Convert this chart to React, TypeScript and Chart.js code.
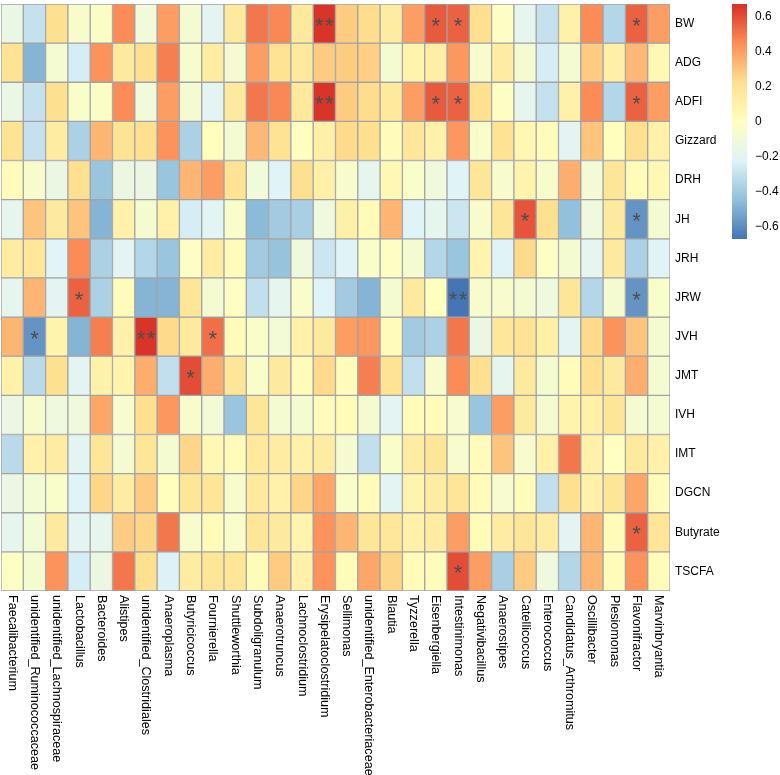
import React, { useEffect, useRef } from "react";
import { Chart, registerables } from "chart.js";

Chart.register(...registerables);

const FONT = "'Liberation Sans', Arial, Helvetica, sans-serif";

const GENERA = [
  "Faecalibacterium", "unidentified_Ruminococcaceae", "unidentified_Lachnospiraceae", "Lactobacillus",
  "Bacteroides", "Alistipes", "unidentified_Clostridiales", "Anaeroplasma", "Butyricicoccus", "Fournierella",
  "Shuttleworthia", "Subdoligranulum", "Anaerotruncus", "Lachnoclostridium", "Erysipelatoclostridium",
  "Sellimonas", "unidentified_Enterobacteriaceae", "Blautia", "Tyzzerella", "Eisenbergiella",
  "Intestinimonas", "Negativibacillus", "Anaerostipes", "Catellicoccus", "Enterococcus",
  "Candidatus_Arthromitus", "Oscillibacter", "Plesiomonas", "Flavonifractor", "Marvinbryantia",
];

const TRAITS = ["BW", "ADG", "ADFI", "Gizzard", "DRH", "JH", "JRH", "JRW", "JVH", "JMT", "IVH", "IMT", "DGCN", "Butyrate", "TSCFA"];

const BW = [-0.15, -0.3, 0.22, -0.05, -0.03, 0.45, -0.1, 0.4, -0.07, -0.2, 0.15, 0.5, 0.46, 0.15, 0.66, 0.28, 0.23, 0.14, 0.4, 0.57, 0.55, 0.22, -0.02, -0.18, -0.3, 0.1, 0.45, -0.35, 0.55, 0.4];
const ADG = [0.2, -0.48, -0.08, -0.25, 0.43, 0.15, 0.22, 0.48, -0.06, 0.14, -0.08, 0.4, 0.2, 0.15, 0.28, 0.28, 0.27, -0.07, 0.08, 0.12, 0.42, -0.06, 0.14, -0.08, -0.25, -0.08, 0.28, 0.11, 0.33, 0.05];
const ADFI = [-0.15, -0.3, 0.22, -0.04, -0.03, 0.45, -0.1, 0.4, -0.07, -0.2, 0.15, 0.5, 0.46, 0.16, 0.66, 0.28, 0.23, 0.16, 0.4, 0.57, 0.55, 0.22, -0.02, -0.18, -0.3, 0.1, 0.45, -0.35, 0.55, 0.4];
const GIZZARD = [0.2, -0.3, 0.14, -0.37, 0.34, 0.2, 0.22, 0.43, -0.37, 0.01, -0.08, 0.33, 0.2, 0.0, 0.11, 0.24, 0.22, 0.02, 0.17, 0.1, 0.42, -0.04, 0.2, 0.06, 0.02, -0.2, 0.3, 0.01, 0.22, 0.1];
const DRH = [0.02, -0.05, -0.14, 0.22, -0.42, -0.14, -0.14, -0.42, 0.34, 0.4, 0.2, -0.1, -0.22, 0.22, 0.11, -0.05, -0.18, 0.05, -0.04, -0.11, -0.22, 0.18, -0.05, 0.08, -0.05, 0.36, -0.09, 0.18, 0.03, 0.05];
const JH = [-0.18, 0.3, 0.15, 0.3, -0.48, 0.1, -0.07, 0.1, -0.25, -0.21, -0.04, -0.46, -0.4, -0.38, -0.12, 0.11, 0.03, 0.34, -0.22, -0.18, -0.28, -0.05, 0.18, 0.58, 0.22, -0.44, -0.12, 0.15, -0.58, -0.08];
const JRH = [0.14, 0.17, -0.21, 0.45, -0.37, -0.2, -0.35, -0.42, -0.02, 0.14, 0.02, -0.4, -0.43, -0.12, -0.28, -0.22, -0.04, -0.02, -0.07, -0.35, -0.42, 0.08, -0.22, 0.24, -0.02, -0.07, -0.18, 0.15, -0.37, -0.22];
const JRW = [-0.18, 0.34, -0.2, 0.55, -0.37, 0.02, -0.48, -0.48, 0.18, -0.07, -0.01, -0.31, -0.18, -0.04, -0.22, -0.4, -0.48, -0.07, 0.15, 0.0, -0.67, -0.05, -0.05, -0.07, -0.12, 0.18, -0.35, -0.07, -0.58, -0.04];
const JVH = [0.34, -0.58, 0.08, -0.48, 0.48, 0.1, 0.66, 0.24, 0.15, 0.52, 0.02, -0.04, -0.09, 0.1, 0.15, 0.4, 0.42, 0.02, -0.4, -0.37, 0.5, -0.14, 0.17, 0.2, 0.11, -0.2, 0.24, 0.43, 0.3, -0.07];
const JMT = [0.1, -0.33, 0.22, -0.2, 0.1, 0.08, 0.36, -0.31, 0.6, 0.36, 0.18, -0.04, 0.15, 0.03, 0.24, 0.02, 0.48, 0.2, -0.31, -0.05, 0.45, 0.22, -0.18, 0.15, -0.07, 0.02, 0.22, 0.15, 0.36, -0.07];
const IVH = [-0.14, -0.05, -0.12, -0.12, 0.38, -0.05, 0.22, 0.42, -0.05, -0.09, -0.42, 0.18, -0.07, -0.07, 0.02, 0.03, -0.07, -0.2, 0.03, 0.03, -0.05, -0.42, 0.4, 0.15, -0.07, 0.08, 0.1, 0.18, -0.07, -0.07];
const IMT = [-0.33, 0.1, 0.14, -0.2, 0.18, -0.07, 0.18, -0.07, 0.25, 0.05, 0.03, 0.16, 0.14, 0.1, 0.14, -0.07, -0.31, -0.04, 0.14, 0.18, -0.05, 0.02, 0.3, -0.05, 0.1, 0.5, 0.1, 0.0, 0.16, 0.1];
const DGCN = [-0.14, -0.09, -0.04, -0.22, 0.25, 0.14, 0.28, 0.01, 0.18, 0.19, -0.05, 0.15, 0.1, 0.25, 0.38, -0.04, 0.02, -0.2, 0.08, 0.14, 0.19, 0.03, -0.05, 0.03, -0.31, 0.22, 0.1, 0.18, 0.38, 0.02];
const BUTYRATE = [-0.18, -0.09, 0.15, -0.2, -0.18, 0.28, 0.25, 0.5, -0.05, 0.03, -0.04, 0.18, 0.15, 0.08, 0.43, 0.34, 0.18, 0.17, 0.1, 0.14, 0.4, 0.03, 0.14, 0.18, 0.14, -0.2, 0.34, 0.03, 0.55, 0.19];
const TSCFA = [-0.02, -0.07, 0.43, -0.25, -0.14, 0.5, 0.22, -0.23, 0.14, 0.18, 0.19, 0.03, 0.28, 0.1, 0.43, 0.03, 0.38, 0.25, 0.03, 0.02, 0.6, 0.4, -0.38, 0.28, -0.12, -0.35, 0.34, 0.03, 0.43, 0.03];

const ROW_VALUES = [BW, ADG, ADFI, GIZZARD, DRH, JH, JRH, JRW, JVH, JMT, IVH, IMT, DGCN, BUTYRATE, TSCFA];

// [trait, genus, significance mark]
const STARS: [string, string, string][] = [
  ["BW", "Erysipelatoclostridium", "**"], ["BW", "Eisenbergiella", "*"], ["BW", "Intestinimonas", "*"], ["BW", "Flavonifractor", "*"],
  ["ADFI", "Erysipelatoclostridium", "**"], ["ADFI", "Eisenbergiella", "*"], ["ADFI", "Intestinimonas", "*"], ["ADFI", "Flavonifractor", "*"],
  ["JH", "Catellicoccus", "*"], ["JH", "Flavonifractor", "*"],
  ["JRW", "Lactobacillus", "*"], ["JRW", "Intestinimonas", "**"], ["JRW", "Flavonifractor", "*"],
  ["JVH", "unidentified_Ruminococcaceae", "*"], ["JVH", "unidentified_Clostridiales", "**"], ["JVH", "Fournierella", "*"],
  ["JMT", "Butyricicoccus", "*"],
  ["Butyrate", "Flavonifractor", "*"],
  ["TSCFA", "Intestinimonas", "*"],
];

const LEGEND_TICKS = [0.6, 0.4, 0.2, 0, -0.2, -0.4, -0.6];
const VMIN = -0.67;
const VMAX = 0.67;
const PALETTE = ["#4575B4", "#91BFDB", "#E0F3F8", "#FFFFBF", "#FEE090", "#FC8D59", "#D73027"];

function hexToRgb(h: string) {
  const n = parseInt(h.slice(1), 16);
  return [(n >> 16) & 255, (n >> 8) & 255, n & 255];
}

function colorFor(v: number) {
  let t = (v - VMIN) / (VMAX - VMIN);
  t = Math.max(0, Math.min(1, t));
  const pos = t * (PALETTE.length - 1);
  const i = Math.min(PALETTE.length - 2, Math.floor(pos));
  const f = pos - i;
  const a = hexToRgb(PALETTE[i]);
  const b = hexToRgb(PALETTE[i + 1]);
  const c = a.map((x, k) => Math.round(x + (b[k] - x) * f));
  return `rgb(${c[0]},${c[1]},${c[2]})`;
}

const overlayPlugin = {
  id: "heatOverlay",
  afterDatasetsDraw(chart: any) {
    const { ctx, scales } = chart;
    const xs = scales.x;
    const ys = scales.y;
    ctx.save();
    ctx.fillStyle = "#4d4d4d";
    ctx.font = `22px ${FONT}`;
    ctx.textAlign = "center";
    ctx.textBaseline = "alphabetic";
    STARS.forEach(([trait, genus, mark]) => {
      const r = TRAITS.indexOf(trait);
      const c = GENERA.indexOf(genus);
      const cx = xs.getPixelForValue(c);
      const cy = ys.getPixelForValue(r + 0.5);
      const n = mark.length;
      const sp = 10;
      for (let k = 0; k < n; k++) {
        ctx.fillText("*", cx - ((n - 1) * sp) / 2 + k * sp, cy + 9);
      }
    });
    ctx.restore();
  },
  afterDraw(chart: any) {
    const { ctx, scales, chartArea } = chart;
    const xs = scales.x;
    ctx.save();
    // column labels, rotated clockwise
    ctx.fillStyle = "#000000";
    ctx.font = `12.6px ${FONT}`;
    ctx.textAlign = "left";
    ctx.textBaseline = "middle";
    GENERA.forEach((g, i) => {
      const x = xs.getPixelForValue(i);
      ctx.save();
      ctx.translate(x, chartArea.bottom + 4);
      ctx.rotate(Math.PI / 2);
      ctx.fillText(g, 0, 0);
      ctx.restore();
    });
    // colour bar legend
    const bx = chartArea.right + 62;
    const bw = 15;
    const top = chartArea.top;
    const h = 235;
    const grad = ctx.createLinearGradient(0, top + h, 0, top);
    PALETTE.forEach((c, i) => grad.addColorStop(i / (PALETTE.length - 1), c));
    ctx.fillStyle = grad;
    ctx.fillRect(bx, top, bw, h);
    ctx.fillStyle = "#000000";
    ctx.font = `12px ${FONT}`;
    ctx.textAlign = "left";
    ctx.textBaseline = "middle";
    LEGEND_TICKS.forEach((v) => {
      const y = top + h - ((v - VMIN) / (VMAX - VMIN)) * h;
      const label = v === 0 ? "0" : v < 0 ? "\u2212" + Math.abs(v) : String(v);
      ctx.fillText(label, bx + bw + 8, y);
    });
    ctx.restore();
  },
};

export default function App() {
  const ref = useRef<HTMLCanvasElement>(null);

  useEffect(() => {
    if (!ref.current) return;
    Chart.defaults.font.family = FONT;
    const chart = new Chart(ref.current, {
      type: "bar",
      data: {
        labels: GENERA,
        datasets: TRAITS.map((t, r) => ({
          label: t,
          data: ROW_VALUES[r].map(() => [r, r + 1]),
          backgroundColor: ROW_VALUES[r].map(colorFor),
          borderColor: "#a3a3a3",
          borderWidth: 1,
          borderSkipped: false,
          grouped: false,
          barPercentage: 1,
          categoryPercentage: 1,
        })) as any,
      },
      options: {
        animation: false,
        responsive: false,
        events: [],
        layout: { padding: { left: 1, top: 4, right: 50, bottom: 0 } },
        plugins: { legend: { display: false }, tooltip: { enabled: false } },
        scales: {
          x: {
            type: "category",
            grid: { display: false, drawTicks: false },
            border: { display: false },
            ticks: { display: false },
            afterFit: (s: any) => {
              s.height = 184;
              s.paddingLeft = 0;
              s.paddingRight = 0;
            },
          },
          y: {
            type: "linear",
            position: "right",
            min: 0,
            max: 15,
            reverse: true,
            grid: { display: false, drawTicks: false },
            border: { display: false },
            afterBuildTicks: (s: any) => {
              s.ticks = TRAITS.map((_, i) => ({ value: i + 0.5 }));
            },
            ticks: {
              autoSkip: false,
              padding: 5,
              color: "#000000",
              font: { size: 12, family: FONT },
              callback: (_v: any, i: number) => TRAITS[i],
            },
            afterFit: (s: any) => {
              s.width = 60;
              s.paddingTop = 0;
              s.paddingBottom = 0;
            },
          },
        },
      },
      plugins: [overlayPlugin],
    });
    return () => chart.destroy();
  }, []);

  return (
    <div style={{ position: "absolute", left: 0, top: 0, width: 780, height: 775, background: "#ffffff" }}>
      <canvas ref={ref} width={780} height={775} style={{ display: "block" }} />
    </div>
  );
}
